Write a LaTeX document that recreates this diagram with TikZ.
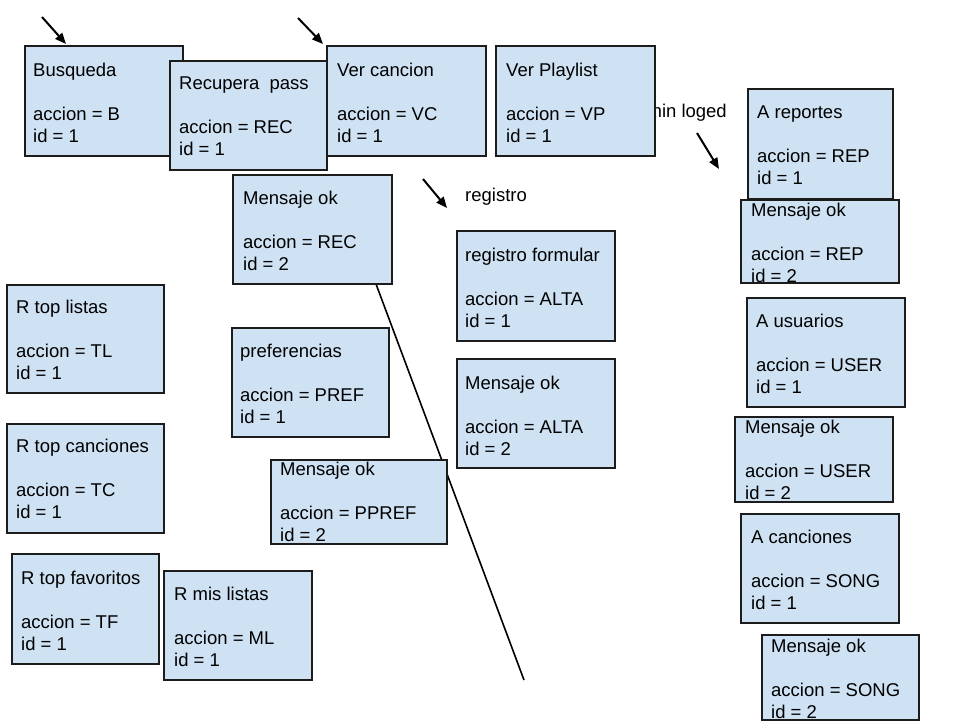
\documentclass[tikz,border=0pt]{standalone}
\usepackage{fontspec}
\setmainfont{Liberation Sans}
\usetikzlibrary{fit,arrows.meta}

\definecolor{screenfill}{HTML}{CFE2F3}
\definecolor{edge}{HTML}{1C1C1C}

\tikzset{
  screenbox/.style={draw=edge, fill=screenfill, line width=1.7pt, inner sep=0pt},
  lbl/.style={inner sep=0pt, anchor=base west, font=\fontsize{18.5}{22}\selectfont},
  entry/.style={draw=black, line width=2pt, -{Triangle[length=11pt,width=9pt]}},
  link/.style={draw=black, line width=1.6pt},
}

% \screen{name}{top-left}{bottom-right}{title baseline}{title}{accion}{id}
\newcommand{\screen}[7]{%
  \node[screenbox, fit={(#2) (#3)}] (#1) {};
  \node[lbl] (#1-t) at (#4) {#5};
  \node[lbl, yshift=-44pt] (#1-a) at (#4) {accion = #6};
  \node[lbl, yshift=-66pt] (#1-i) at (#4) {id = #7};
}

\begin{document}
\begin{tikzpicture}[x=1pt,y=-1pt]
\useasboundingbox (0,0) rectangle (960,720);

% entry arrows and their labels
\coordinate (e1s) at (42,17);   \coordinate (e1e) at (66,44);
\coordinate (e2s) at (298,18);  \coordinate (e2e) at (323,44);
\coordinate (e3s) at (423,179); \coordinate (e3e) at (447,208);
\coordinate (e4s) at (697,133); \coordinate (e4e) at (719,169);
\draw[entry] (e1s) -- (e1e);
\draw[entry] (e2s) -- (e2e);
\draw[entry] (e3s) -- (e3e);
\draw[entry] (e4s) -- (e4e);
\node[lbl] (regtxt) at (465,201) {registro};
\node[lbl, anchor=base east] (admtxt) at (727,117) {min loged};

% dividing line
\coordinate (lineA) at (376,284);
\coordinate (lineB) at (524,680);
\draw[link] (lineA) -- (lineB);

% top row
\screen{busq}{25,46}{183,156}{33,76}{Busqueda}{B}{1}
\screen{recpass}{170,61}{327,170}{179,89}{Recupera\ \ pass}{REC}{1}
\screen{vercan}{327,46}{486,156}{337,76}{Ver cancion}{VC}{1}
\screen{verpl}{496,46}{655,156}{506,76}{Ver Playlist}{VP}{1}

% middle column
\screen{recok}{233,175}{392,284}{243,204}{Mensaje ok}{REC}{2}
\screen{pref}{232,328}{389,437}{240,357}{preferencias}{PREF}{1}
\screen{prefok}{271,460}{447,544}{280,475}{Mensaje ok}{PPREF}{2}
\screen{alta}{457,231}{615,341}{465,261}{registro formular}{ALTA}{1}
\screen{altaok}{457,359}{615,468}{465,389}{Mensaje ok}{ALTA}{2}

% left column
\screen{toplis}{7,285}{164,393}{16,313}{R top listas}{TL}{1}
\screen{topcan}{7,424}{164,533}{16,452}{R top canciones}{TC}{1}
\screen{topfav}{12,554}{159,664}{21,584}{R top favoritos}{TF}{1}
\screen{mislis}{164,571}{312,680}{174,600}{R mis listas}{ML}{1}

% admin column
\screen{rep}{748,89}{893,199}{757,118}{A reportes}{REP}{1}
\screen{repok}{741,200}{899,283}{751,216}{Mensaje ok}{REP}{2}
\screen{usr}{747,298}{905,407}{756,327}{A usuarios}{USER}{1}
\screen{usrok}{735,417}{893,502}{745,433}{Mensaje ok}{USER}{2}
\screen{song}{741,514}{899,623}{751,543}{A canciones}{SONG}{1}
\screen{songok}{762,635}{919,720}{771,652}{Mensaje ok}{SONG}{2}
\end{tikzpicture}
\end{document}
